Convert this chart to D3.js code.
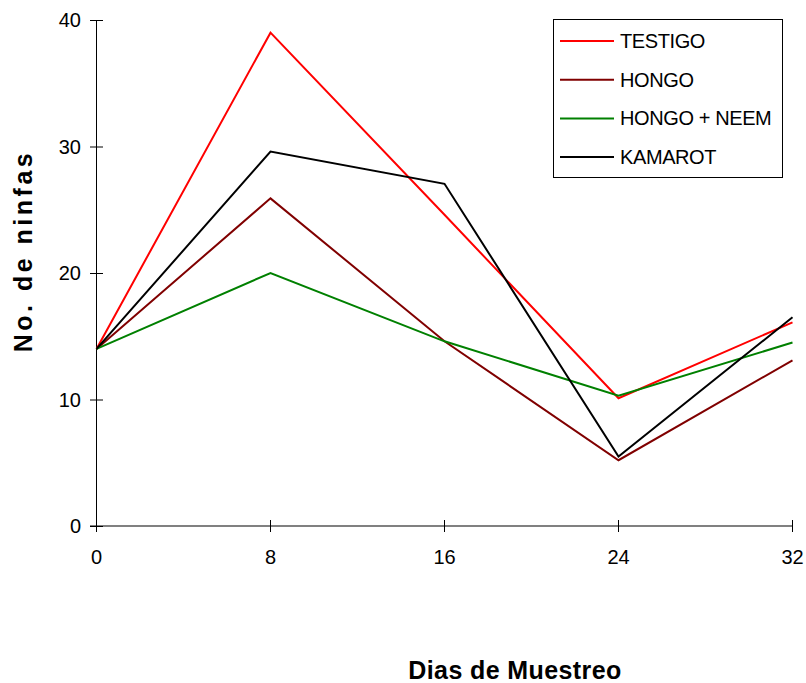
<html>
<head>
<meta charset="UTF-8">
<title>No. de ninfas</title>
<style>
body { margin: 0; background: #fff; }
text { font-family: "Liberation Sans", Arial, sans-serif; fill: #000; }
.tick_lbl { font-size: 20px; }
.legend_lbl { font-size: 20px; letter-spacing: -0.4px; }
.axis_title { font-size: 25px; font-weight: bold; }
</style>
</head>
<body>
<div id="chart"></div>
<script src="https://d3js.org/d3.v7.min.js"></script>
<script>
// dias de muestreo
var dias = [0, 8, 16, 24, 32];
var yTicks = [0, 10, 20, 30, 40];

var testigo   = [14, 39, 24.6, 10.1, 16.1];
var hongo     = [14, 25.9, 14.6, 5.2, 13.1];
var hongoNeem = [14, 20, 14.6, 10.3, 14.5];
var kamarot   = [14, 29.6, 27.05, 5.5, 16.5];

var seriesNames  = ["TESTIGO", "HONGO", "HONGO + NEEM", "KAMAROT"];
var seriesValues = [testigo, hongo, hongoNeem, kamarot];
var seriesColors = ["#ff0000", "#800000", "#008000", "#000000"];

var width = 806, height = 683;

var svg = d3.select("#chart").append("svg")
    .attr("width", width)
    .attr("height", height);

var x = d3.scaleLinear().domain([0, 32]).range([96.5, 792.5]);
var y = d3.scaleLinear().domain([0, 40]).range([526, 20]);

// eje x (gris)
svg.append("line")
    .attr("x1", 90).attr("x2", 793)
    .attr("y1", y(0)).attr("y2", y(0))
    .attr("stroke", "#808080").attr("stroke-width", 2);

svg.selectAll(".xtick")
    .data(dias)
    .enter().append("line")
    .attr("x1", function(d){ return x(d); })
    .attr("x2", function(d){ return x(d); })
    .attr("y1", y(0) - 6).attr("y2", y(0) + 6)
    .attr("stroke", "#000").attr("stroke-width", 1);

svg.selectAll(".xlbl")
    .data(dias)
    .enter().append("text")
    .attr("class", "tick_lbl")
    .attr("x", function(d){ return x(d); })
    .attr("y", 564)
    .attr("text-anchor", "middle")
    .text(function(d){ return d; });

// eje y
svg.append("line")
    .attr("x1", 96.5).attr("x2", 96.5)
    .attr("y1", y(40)).attr("y2", y(0))
    .attr("stroke", "#000").attr("stroke-width", 1);

svg.selectAll(".ytick")
    .data(yTicks)
    .enter().append("line")
    .attr("x1", 90).attr("x2", 103)
    .attr("y1", function(d){ return y(d) + 0.5; })
    .attr("y2", function(d){ return y(d) + 0.5; })
    .attr("stroke", "#000").attr("stroke-width", 1);

svg.selectAll(".ylbl")
    .data(yTicks)
    .enter().append("text")
    .attr("class", "tick_lbl")
    .attr("x", 81)
    .attr("y", function(d){ return y(d) + 7; })
    .attr("text-anchor", "end")
    .text(function(d){ return d; });

// lineas
var line = d3.line()
    .x(function(d, i){ return x(dias[i]); })
    .y(function(d){ return y(d); });

svg.selectAll(".serie")
    .data(seriesValues)
    .enter().append("path")
    .attr("fill", "none")
    .attr("stroke", function(d, i){ return seriesColors[i]; })
    .attr("stroke-width", 2)
    .attr("stroke-linejoin", "miter")
    .attr("d", line);

// leyenda
svg.append("rect")
    .attr("x", 553.5).attr("y", 19.5)
    .attr("width", 229).attr("height", 158)
    .attr("fill", "#fff").attr("stroke", "#000").attr("stroke-width", 1);

var leg = svg.selectAll(".leg")
    .data(seriesNames)
    .enter().append("g")
    .attr("transform", function(d, i){ return "translate(0," + (41 + i * 38.7) + ")"; });

leg.append("line")
    .attr("x1", 560).attr("x2", 614)
    .attr("y1", 0).attr("y2", 0)
    .attr("stroke", function(d, i){ return seriesColors[i]; })
    .attr("stroke-width", 2);

leg.append("text")
    .attr("class", "legend_lbl")
    .attr("x", 620)
    .attr("y", 7)
    .text(function(d){ return d; });

// titulos
svg.append("text")
    .attr("class", "axis_title")
    .attr("transform", "translate(32,251) rotate(-90)")
    .attr("text-anchor", "middle")
    .style("letter-spacing", "3.5px")
    .text("No. de ninfas");

svg.append("text")
    .attr("class", "axis_title")
    .attr("x", 515)
    .attr("y", 679)
    .attr("text-anchor", "middle")
    .style("letter-spacing", "0.4px")
    .text("Dias de Muestreo");
</script>
</body>
</html>
